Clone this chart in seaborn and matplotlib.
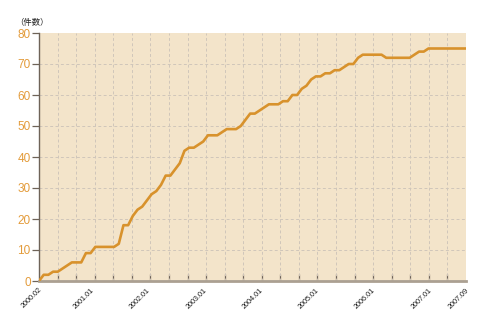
import numpy as np
import pandas as pd
import matplotlib
matplotlib.use("Agg")
import matplotlib.pyplot as plt
import seaborn as sns

# month index 0 = 2000.02 ... 91 = 2007.09
counts = [0, 2, 2, 3, 3, 4, 5, 6, 6, 6,
          9, 9, 11, 11, 11, 11, 11, 12, 18, 18,
          21, 23, 24, 26, 28, 29, 31, 34, 34, 36,
          38, 42, 43, 43, 44, 45, 47, 47, 47, 48,
          49, 49, 49, 50, 52, 54, 54, 55, 56, 57,
          57, 57, 58, 58, 60, 60, 62, 63, 65, 66,
          66, 67, 67, 68, 68, 69, 70, 70, 72, 73,
          73, 73, 73, 73, 72, 72, 72, 72, 72, 72,
          73, 74, 74, 75, 75, 75, 75, 75, 75, 75,
          75, 75]
months = list(range(len(counts)))
tick_pos = [0, 11, 23, 35, 47, 59, 71, 83, 91]
tick_labels = ["2000.02", "2001.01", "2002.01", "2003.01", "2004.01",
               "2005.01", "2006.01", "2007.01", "2007.09"]
y_ticks = [0, 10, 20, 30, 40, 50, 60, 70, 80]

df = pd.DataFrame({"month": months, "count": counts})

sns.set_style("white")
plt.rcParams['font.family'] = ['Noto Sans CJK JP', 'DejaVu Sans']

fig = plt.figure(figsize=(4.9, 3.2), dpi=100)
ax = fig.add_axes([39/490, 1-281/320, 427/490, 248/320])
ax.set_facecolor("#F3E4CA")

sns.lineplot(data=df, x="month", y="count", ax=ax, color="#D8922C",
             linewidth=1.9, zorder=3)

ax.set_xlim(0, 91)
ax.set_ylim(0, 80)

# grid
grid_x = np.linspace(0, 91, 24)[1:-1]
ax.set_xticks(grid_x, minor=True)
ax.set_xticks(tick_pos)
ax.set_xticklabels(tick_labels, rotation=45, ha="right", rotation_mode="anchor",
                   fontsize=5.2, color="#1A1A1A",
                   family=['Liberation Sans', 'DejaVu Sans'])
ax.set_yticks(y_ticks)
ax.set_yticklabels([str(v) for v in y_ticks], fontsize=8.5, color="#E39B3A",
                   family=['Liberation Sans', 'DejaVu Sans'])

for gx in grid_x:
    ax.axvline(gx, color="#CFC6BA", lw=0.7, ls=(0, (3, 2.5)), zorder=1)
for gy in y_ticks[1:-1]:
    ax.axhline(gy, color="#CFC6BA", lw=0.7, ls=(0, (3, 2.5)), zorder=1)

ax.tick_params(axis="x", which="minor", direction="in", length=5, width=0.9,
               color="#6E6358", bottom=True)
ax.tick_params(axis="x", which="major", length=0, pad=4, bottom=True)
ax.tick_params(axis="y", which="major", direction="out", length=5, width=0.9,
               color="#6E6358", pad=1, left=True)

for s in ["top", "right"]:
    ax.spines[s].set_visible(False)
ax.spines["left"].set_color("#6E6358")
ax.spines["left"].set_linewidth(1.0)
ax.spines["bottom"].set_color("#ABA092")
ax.spines["bottom"].set_linewidth(2.0)

ax.set_xlabel("")
ax.set_ylabel("")
fig.text(15/490, 1-22/320, "（件数）", fontsize=6, color="#222222",
         ha="left", va="center", family=['Noto Sans CJK JP', 'DejaVu Sans'])

fig.savefig("out.png", dpi=100)
